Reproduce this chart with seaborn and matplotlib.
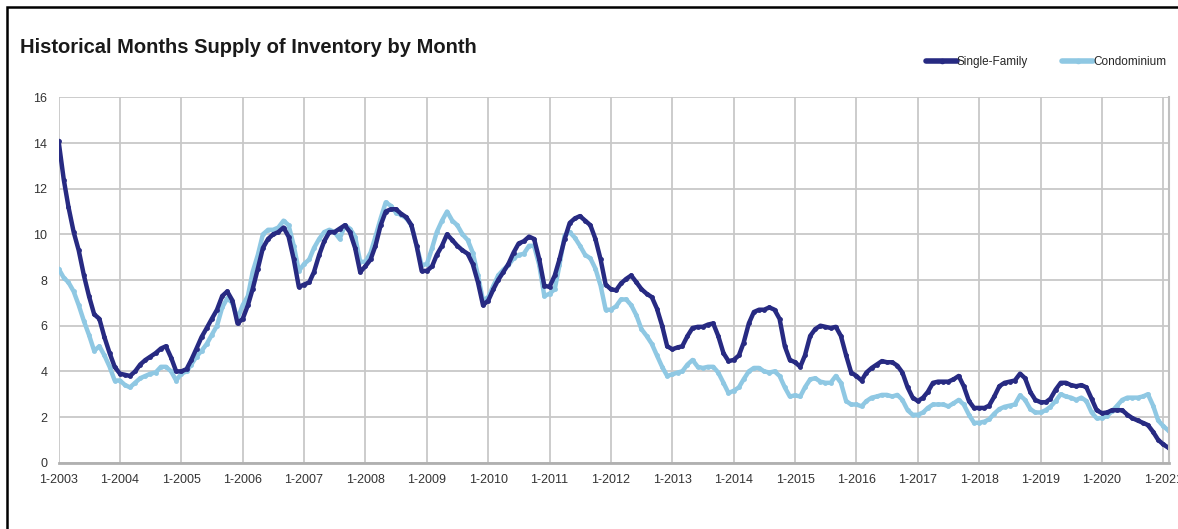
import numpy as np
import pandas as pd
import matplotlib
matplotlib.use("Agg")
import matplotlib.pyplot as plt
import seaborn as sns

# monthly values, Jan 2003 .. Feb 2021
single_family = [
    14.1, 12.4, 11.2, 10.1, 9.3, 8.2, 7.3, 6.5, 6.3, 5.5, 4.8, 4.2,      # 2003
    3.9, 3.85, 3.8, 4.0, 4.3, 4.5, 4.65, 4.8, 5.0, 5.1, 4.6, 4.0,        # 2004
    4.0, 4.1, 4.5, 5.0, 5.5, 5.9, 6.3, 6.7, 7.3, 7.5, 7.1, 6.1,          # 2005
    6.3, 6.9, 7.6, 8.5, 9.4, 9.8, 10.0, 10.1, 10.3, 9.9, 8.9, 7.7,       # 2006
    7.8, 7.9, 8.35, 9.1, 9.7, 10.1, 10.1, 10.25, 10.4, 10.1, 9.4, 8.35,  # 2007
    8.6, 8.9, 9.5, 10.4, 11.0, 11.1, 11.1, 10.9, 10.75, 10.4, 9.5, 8.4,  # 2008
    8.4, 8.6, 9.1, 9.5, 10.0, 9.75, 9.5, 9.3, 9.15, 8.7, 7.9, 6.9,       # 2009
    7.1, 7.6, 8.0, 8.35, 8.7, 9.2, 9.6, 9.7, 9.9, 9.8, 8.9, 7.75,        # 2010
    7.7, 8.2, 8.9, 9.8, 10.5, 10.7, 10.8, 10.6, 10.4, 9.8, 8.9, 7.8,     # 2011
    7.6, 7.55, 7.85, 8.05, 8.2, 7.9, 7.6, 7.4, 7.25, 6.75, 6.0, 5.1,     # 2012
    4.97, 5.05, 5.1, 5.55, 5.9, 5.95, 5.95, 6.05, 6.1, 5.55, 4.8, 4.45,  # 2013
    4.5, 4.7, 5.25, 6.1, 6.6, 6.7, 6.7, 6.8, 6.7, 6.3, 5.1, 4.5,         # 2014
    4.4, 4.2, 4.7, 5.55, 5.85, 6.0, 5.95, 5.9, 5.95, 5.55, 4.7, 3.95,    # 2015
    3.8, 3.6, 3.95, 4.15, 4.3, 4.45, 4.4, 4.4, 4.25, 3.95, 3.3, 2.85,    # 2016
    2.7, 2.85, 3.1, 3.5, 3.55, 3.55, 3.55, 3.65, 3.8, 3.35, 2.7, 2.4,    # 2017
    2.4, 2.4, 2.5, 2.9, 3.35, 3.5, 3.55, 3.6, 3.9, 3.7, 3.1, 2.75,       # 2018
    2.65, 2.65, 2.8, 3.2, 3.5, 3.5, 3.4, 3.35, 3.4, 3.3, 2.8, 2.3,       # 2019
    2.17, 2.2, 2.3, 2.3, 2.3, 2.1, 1.95, 1.85, 1.75, 1.65, 1.35, 1.0,    # 2020
    0.8, 0.65,                                                           # 2021
]

condominium = [
    8.5, 8.1, 7.9, 7.5, 6.9, 6.2, 5.6, 4.9, 5.1, 4.7, 4.2, 3.6,          # 2003
    3.6, 3.4, 3.3, 3.5, 3.7, 3.8, 3.9, 3.95, 4.2, 4.2, 4.0, 3.6,         # 2004
    3.9, 4.0, 4.3, 4.65, 4.9, 5.2, 5.6, 6.0, 6.8, 7.2, 7.0, 6.3,         # 2005
    6.9, 7.3, 8.35, 9.1, 10.0, 10.2, 10.2, 10.3, 10.6, 10.4, 9.5, 8.4,   # 2006
    8.7, 8.9, 9.4, 9.8, 10.1, 10.2, 10.1, 9.8, 10.4, 10.25, 9.9, 8.8,    # 2007
    8.8, 9.2, 9.9, 10.7, 11.4, 11.25, 10.95, 10.85, 10.7, 10.4, 9.5, 8.65,  # 2008
    8.7, 9.4, 10.1, 10.6, 11.0, 10.6, 10.4, 10.0, 9.75, 9.2, 8.2, 7.1,   # 2009
    7.25, 7.75, 8.2, 8.45, 8.65, 8.95, 9.1, 9.15, 9.5, 9.5, 8.65, 7.3,   # 2010
    7.4, 7.6, 8.65, 9.95, 10.1, 9.85, 9.5, 9.1, 8.95, 8.5, 7.75, 6.7,    # 2011
    6.7, 6.85, 7.15, 7.15, 6.9, 6.45, 5.85, 5.55, 5.2, 4.7, 4.2, 3.8,    # 2012
    3.87, 3.95, 4.0, 4.3, 4.5, 4.2, 4.15, 4.2, 4.2, 3.95, 3.5, 3.05,     # 2013
    3.15, 3.3, 3.65, 4.0, 4.15, 4.15, 4.0, 3.95, 4.0, 3.8, 3.3, 2.9,     # 2014
    2.95, 2.9, 3.3, 3.65, 3.7, 3.55, 3.5, 3.5, 3.8, 3.5, 2.7, 2.55,      # 2015
    2.55, 2.47, 2.7, 2.85, 2.9, 2.97, 2.97, 2.9, 2.97, 2.75, 2.3, 2.1,   # 2016
    2.1, 2.2, 2.4, 2.55, 2.55, 2.55, 2.47, 2.6, 2.75, 2.55, 2.1, 1.75,   # 2017
    1.75, 1.8, 1.9, 2.15, 2.35, 2.45, 2.5, 2.55, 2.95, 2.75, 2.35, 2.2,  # 2018
    2.2, 2.3, 2.45, 2.7, 3.0, 2.9, 2.85, 2.75, 2.85, 2.7, 2.2, 1.95,     # 2019
    1.95, 2.05, 2.25, 2.5, 2.75, 2.85, 2.85, 2.85, 2.9, 3.0, 2.5, 1.85,  # 2020
    1.6, 1.4,                                                            # 2021
]

tick_years = list(range(2003, 2022))
tick_labels = [f"1-{y}" for y in tick_years]
y_ticks = [0, 2, 4, 6, 8, 10, 12, 14, 16]

months = pd.date_range("2003-01-01", periods=len(single_family), freq="MS")
df = pd.DataFrame({
    "month": list(months) * 2,
    "supply": single_family + condominium,
    "type": ["Single-Family"] * len(months) + ["Condominium"] * len(months),
})

sns.set_style("whitegrid")
plt.rcParams["font.family"] = ["Liberation Sans", "DejaVu Sans"]

fig = plt.figure(figsize=(11.78, 5.29), dpi=100)
ax = fig.add_axes([0.0497, 0.1253, 0.9423, 0.6907])

sns.lineplot(data=df, x="month", y="supply", hue="type",
             palette={"Single-Family": "#272a82", "Condominium": "#8fc8e3"},
             hue_order=["Condominium", "Single-Family"],
             linewidth=3.2, marker="o", markersize=3.5, markeredgewidth=0,
             ax=ax, legend=False)

ax.set_xlim(months[0], months[-1])
ax.set_ylim(0, 16)
ax.set_yticks(y_ticks)
ax.set_xticks(pd.to_datetime([f"{y}-01-01" for y in tick_years]))
ax.set_xticklabels(tick_labels)
ax.tick_params(axis="both", labelsize=9, colors="#333333", length=0, pad=8)
ax.set_xlabel("")
ax.set_ylabel("")
ax.grid(True, color="#c8c8c8", linewidth=1.3)
for side in ["top", "left"]:
    ax.spines[side].set_visible(False)
ax.spines["bottom"].set_color("#b0b0b0")
ax.spines["bottom"].set_linewidth(2)
ax.spines["right"].set_color("#c0c0c0")
ax.spines["right"].set_linewidth(1.5)

# legend
sf_line = plt.Line2D([], [], color="#272a82", lw=4, marker="o", markersize=3)
co_line = plt.Line2D([], [], color="#8fc8e3", lw=4, marker="o", markersize=3)
fig.legend([sf_line, co_line], ["Single-Family", "Condominium"],
           loc="center right", bbox_to_anchor=(0.999, 0.882), ncol=2,
           frameon=False, fontsize=8.5, handlelength=2.6, handletextpad=0.0,
           columnspacing=2.9)

fig.text(0.017, 0.91, "Historical Months Supply of Inventory by Month",
         fontsize=14.5, fontweight="bold", color="#1a1a1a", va="center")

# black frame around the chart
frame = plt.Rectangle((0.006, -0.05), 1.2, 1.037, transform=fig.transFigure,
                      fill=False, edgecolor="black", linewidth=1.8)
fig.add_artist(frame)

fig.savefig("out.png", dpi=100)
